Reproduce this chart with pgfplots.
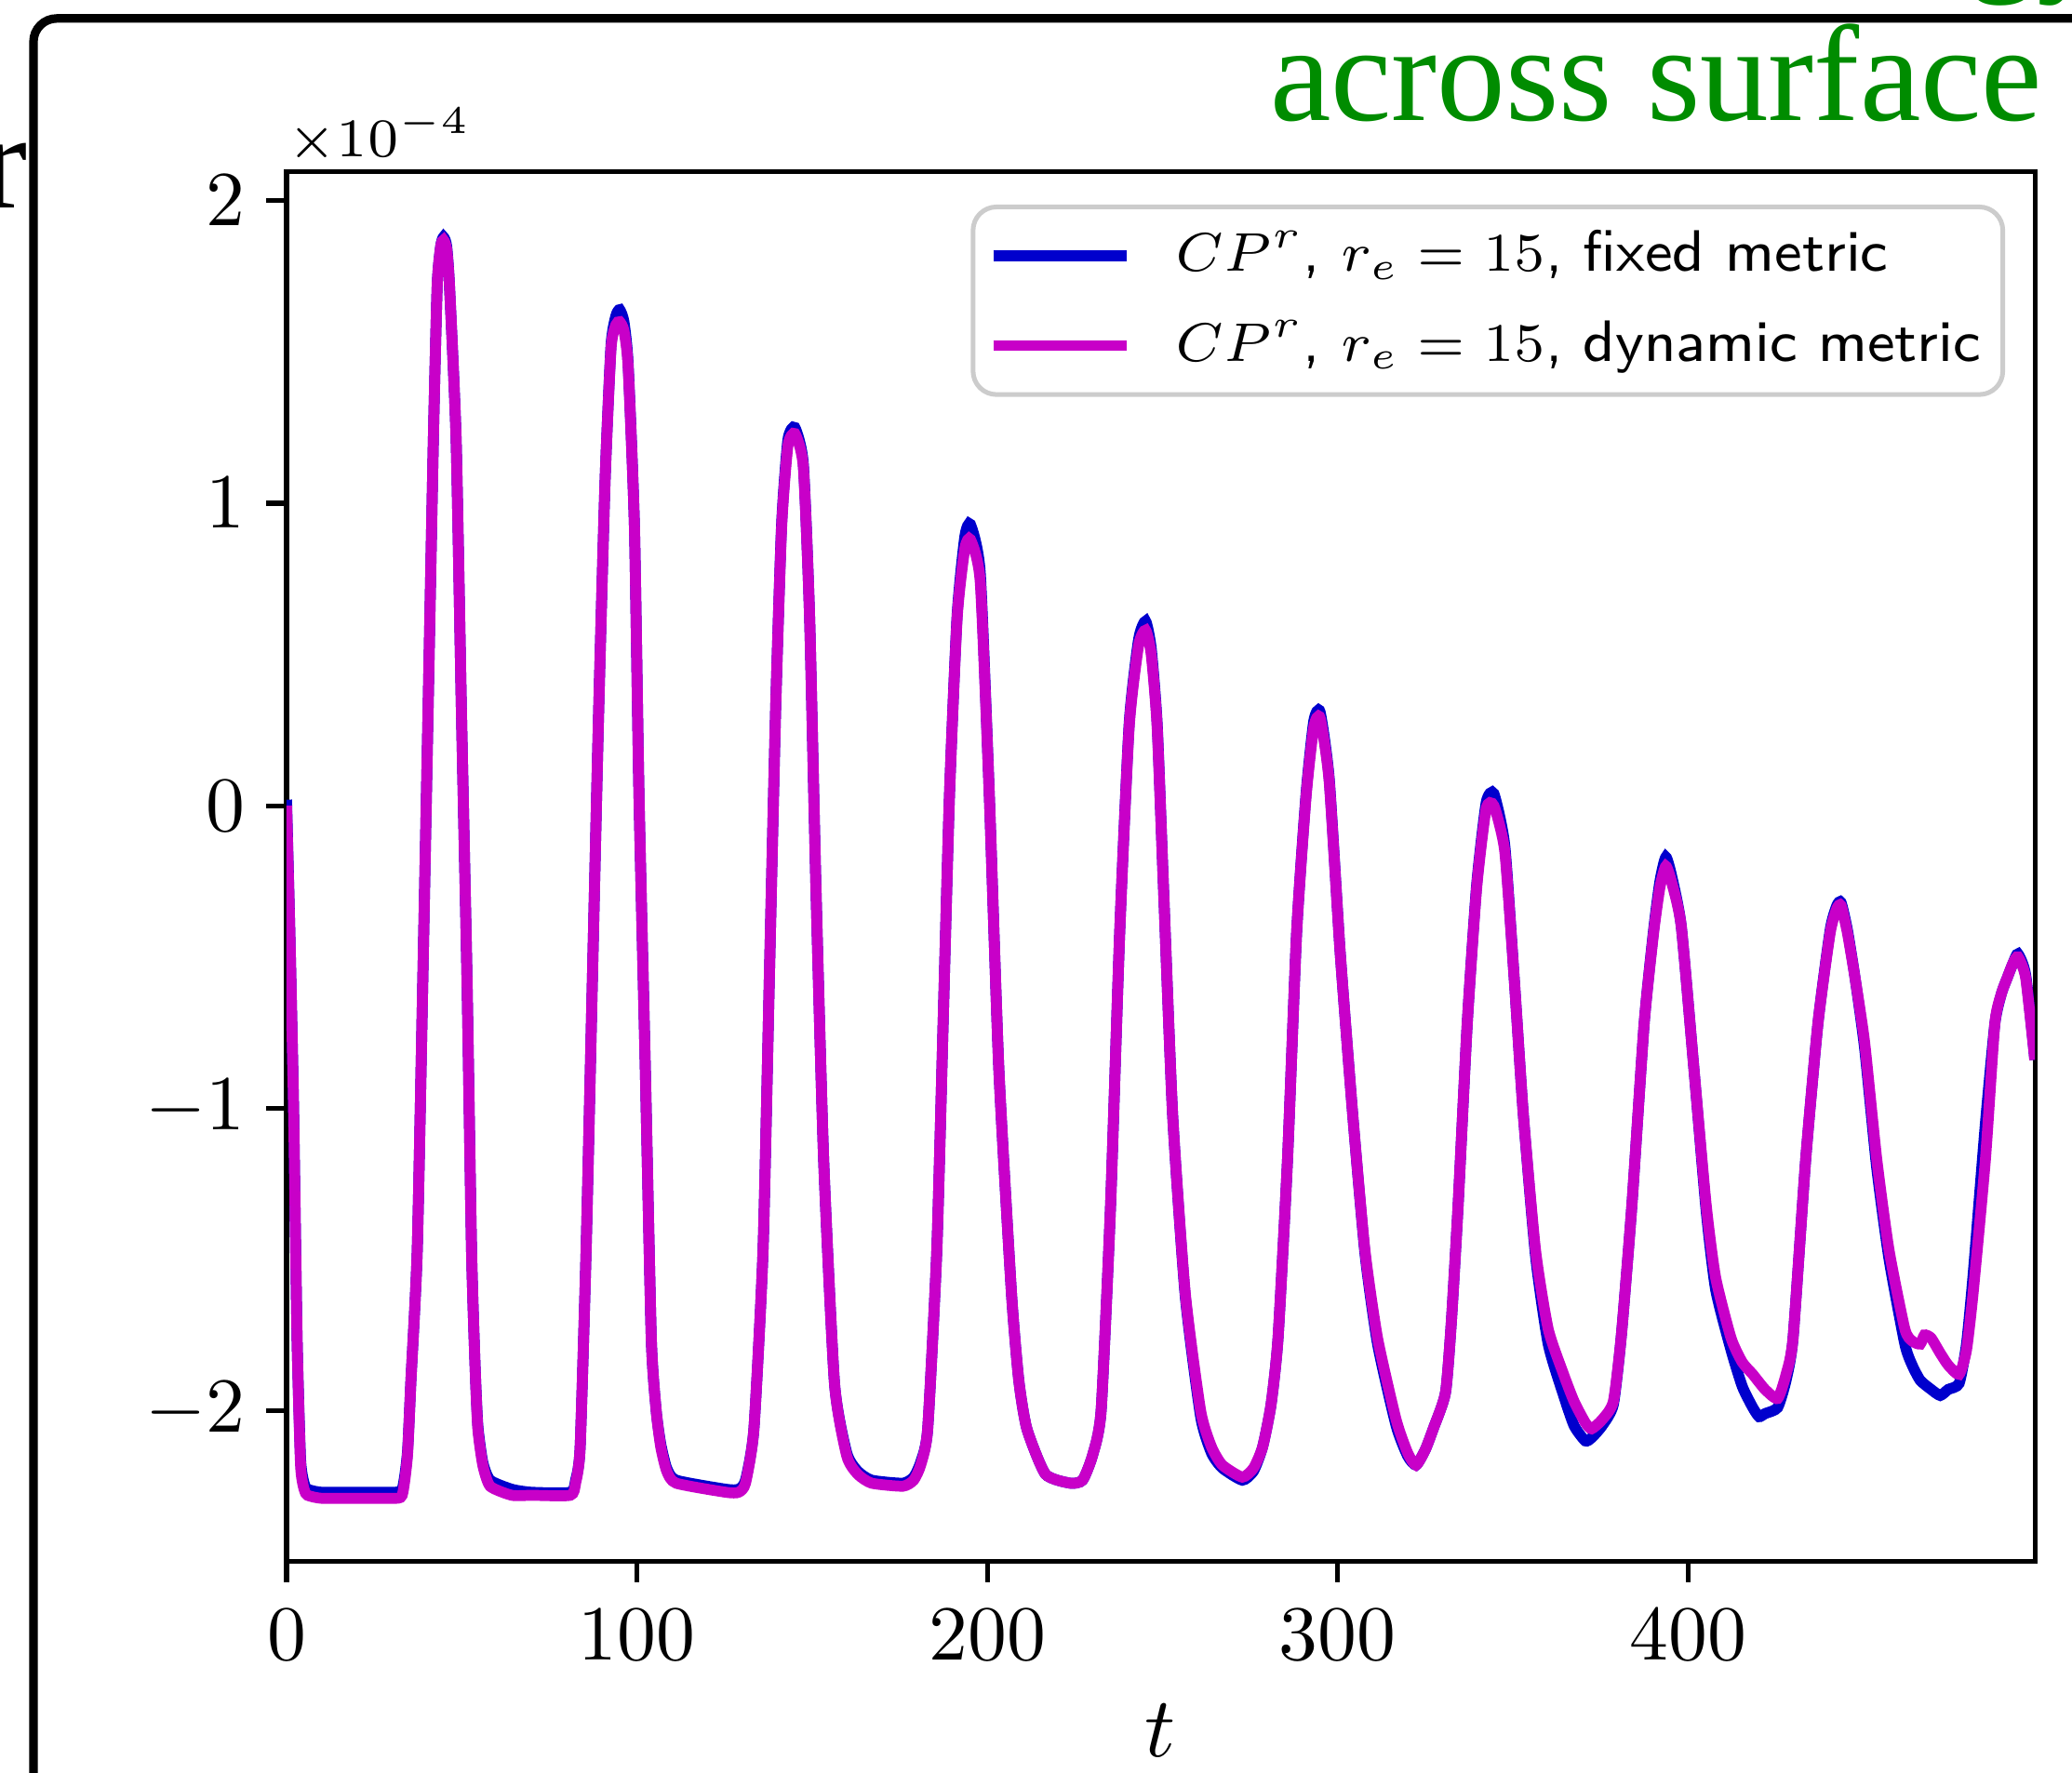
\documentclass[border=0pt]{standalone}
\usepackage{pgfplots}
\pgfplotsset{compat=1.18}
\usepackage{fontspec}
\newfontfamily\slidefont{Liberation Serif}
\definecolor{cpblue}{RGB}{0,0,205}
\definecolor{cpmag}{RGB}{200,0,200}
\definecolor{slidegreen}{RGB}{0,140,0}
\begin{document}
\begin{tikzpicture}
\useasboundingbox (0,0) rectangle (9.3534cm,8.0052cm);
\clip (0,0) rectangle (9.3534cm,8.0052cm);
\begin{scope}[x=0.0042cm,y=0.0042cm]
% slide frame and slide text
\draw[line width=1.1pt, rounded corners=3pt] (36,-30) -- (36,1888) -- (2270,1888);
\node[anchor=base east, inner sep=0, text=slidegreen, font=\slidefont\fontsize{17.6}{20}\selectfont] at (2199,1778) {across surface};
\node[anchor=base east, inner sep=0, text=slidegreen, font=\slidefont\fontsize{17.6}{20}\selectfont] at (2267,1933) {energy};
\node[anchor=base east, inner sep=0, font=\slidefont\fontsize{17.6}{20}\selectfont] at (31,1684) {r};
\node[anchor=base west, inner sep=0, font=\fontsize{7.4}{9}\selectfont] at (308,1739) {$\times10^{-4}$};
\end{scope}
\begin{axis}[
  at={(1.2936cm,0.9534cm)}, anchor=south west,
  scale only axis, width=7.892cm, height=6.275cm,
  xmin=0, xmax=499, ymin=-2.5, ymax=2.095,
  xtick={0,100,200,300,400}, ytick={-2,-1,0,1,2},
  tick align=outside, xtick pos=bottom, ytick pos=left,
  major tick length=0.092cm,
  axis line style={line width=0.6pt}, every tick/.style={black, line width=0.6pt},
  tick label style={font=\fontsize{9.7}{12}\selectfont},
  yticklabel style={xshift=0.03cm},
  xlabel={$t$},
  xlabel style={at={(axis description cs:0.5,0)}, anchor=base, yshift=-0.882cm, font=\fontsize{11}{13}\selectfont},
  legend cell align=left,
  legend style={at={(1,1)}, anchor=north east, xshift=-0.134cm, yshift=-0.147cm,
    draw=black!20, line width=0.6pt, rounded corners=3pt, fill=white,
    font=\fontsize{7.5}{9}\selectfont, inner xsep=1.9pt, inner ysep=1pt, row sep=0.9pt, column sep=4.7pt,
    nodes={text height=6pt, text depth=2pt, inner ysep=1.3pt, inner xsep=0.9pt}},
]
\addplot[cpblue, line width=1.4pt, smooth, tension=0.35] coordinates {
(0,0.02) (1,-0.45) (2,-1.0) (3,-1.76) (4,-2.16) (5,-2.24) (6,-2.26) (10,-2.27) (20,-2.27) (30,-2.27) (33,-2.26)
(34.5,-2.14) (35.5,-1.9) (37.3,-1.47) (38.9,-0.57) (40.4,0.32) (41.9,1.21) (43.0,1.72) (44.0,1.85) (44.8,1.88)
(45.7,1.85) (46.5,1.72) (48.4,1.21) (49.9,0.32) (51.5,-0.57) (52.8,-1.47) (53.8,-1.85) (54.6,-2.05) (56,-2.17)
(58.1,-2.23) (64.3,-2.26) (70,-2.27) (81,-2.27) (82.5,-2.23) (83.8,-2.12) (85.5,-1.47) (87.3,-0.57) (89.1,0.32)
(90.9,1.07) (92.6,1.52) (94,1.62) (95.1,1.64) (96.3,1.60) (97.5,1.46) (99.3,0.92) (100.6,0.03) (102.4,-0.87)
(104.1,-1.76) (105.5,-2.0) (106.8,-2.11) (108.5,-2.19) (111.2,-2.23) (125.4,-2.26) (129,-2.26) (131,-2.23)
(133.4,-2.06) (136,-1.47) (137.8,-0.57) (139.6,0.32) (141.3,0.93) (143.1,1.21) (145.1,1.25) (147.5,1.13)
(149.3,0.62) (151.1,-0.27) (153.3,-1.17) (156.4,-1.91) (159.9,-2.14) (163,-2.2) (167,-2.23) (175.9,-2.24)
(179,-2.22) (181,-2.17) (183,-2.06) (185.6,-1.47) (187.4,-0.72) (189.2,0.03) (191.4,0.63) (193.6,0.89)
(195.2,0.93) (198,0.77) (200.6,0.03) (203.3,-0.87) (206.9,-1.61) (209,-1.9) (211.3,-2.06) (216.6,-2.21)
(223.7,-2.24) (227.2,-2.23) (230,-2.15) (232.5,-2.0) (235.2,-1.32) (237.8,-0.42) (240.5,0.27) (243.2,0.55)
(245.2,0.61) (246.8,0.52) (248.5,0.27) (250.3,-0.27) (252.9,-1.02) (256.5,-1.62) (260.9,-2.02) (264,-2.14)
(267.1,-2.19) (272.8,-2.23) (276,-2.2) (278.6,-2.12) (281,-1.98) (283,-1.76) (285.7,-1.17) (288.3,-0.42)
(291,0.04) (293.2,0.28) (295,0.31) (297.6,0.09) (300.7,-0.48) (304.3,-1.02) (307.8,-1.48) (311.4,-1.78)
(316.7,-2.05) (320,-2.15) (322.4,-2.18) (325,-2.13) (327.3,-2.06) (330.8,-1.94) (332.5,-1.7) (334.4,-1.32)
(337,-0.72) (339.7,-0.26) (342.4,0.01) (344.6,0.04) (347.7,-0.13) (350.4,-0.57) (353,-1.02) (356.5,-1.49)
(360.1,-1.78) (364.5,-1.95) (367.5,-2.05) (370.7,-2.10) (372.5,-2.09) (375.5,-2.05) (378.7,-1.98) (381,-1.75)
(384,-1.32) (387.5,-0.72) (390.2,-0.41) (392,-0.25) (393.7,-0.17) (395.5,-0.24) (398.1,-0.40) (401.7,-0.87)
(405.2,-1.34) (407.9,-1.6) (412.3,-1.8) (415.5,-1.92) (418.5,-1.99) (420.3,-2.02) (422,-2.01) (425.6,-1.99)
(428,-1.9) (430,-1.76) (433.6,-1.17) (437.1,-0.72) (440.6,-0.41) (442.5,-0.33) (443.7,-0.32) (445.5,-0.41)
(447.7,-0.57) (450.4,-0.8) (453.9,-1.2) (457.4,-1.5) (461.9,-1.78) (464,-1.85) (466.3,-1.9) (469.4,-1.93)
(472,-1.95) (474.3,-1.93) (477.4,-1.91) (479.5,-1.78) (481.4,-1.55) (484.9,-1.05) (487.6,-0.72) (489.5,-0.62)
(491.1,-0.57) (492.8,-0.52) (494.2,-0.49) (496.4,-0.56) (499,-0.84)
};
\addlegendentry{$CP^r$\textsf{, }$r_e=15$\textsf{, fixed metric}}
\addplot[cpmag, line width=1.4pt, smooth, tension=0.35] coordinates {
(0,0.0) (1,-0.45) (2,-1.0) (3,-1.76) (4,-2.18) (5,-2.26) (6,-2.28) (10,-2.29) (20,-2.29) (30,-2.29) (33,-2.28)
(34.5,-2.15) (35.5,-1.9) (37.3,-1.47) (38.9,-0.57) (40.4,0.32) (41.9,1.21) (43.0,1.72) (44.0,1.85) (44.8,1.87)
(45.7,1.84) (46.5,1.72) (48.4,1.21) (49.9,0.32) (51.5,-0.57) (52.8,-1.47) (53.8,-1.85) (54.6,-2.06) (56,-2.18)
(58.1,-2.25) (64.3,-2.28) (70,-2.28) (81,-2.28) (82.5,-2.24) (83.8,-2.12) (85.5,-1.47) (87.3,-0.57) (89.1,0.32)
(90.9,1.07) (92.6,1.51) (94,1.59) (95.1,1.60) (96.3,1.57) (97.5,1.45) (99.3,0.92) (100.6,0.03) (102.4,-0.87)
(104.1,-1.76) (105.5,-2.0) (106.8,-2.12) (108.5,-2.2) (111.2,-2.24) (125.4,-2.27) (129,-2.27) (131,-2.24)
(133.4,-2.06) (136,-1.47) (137.8,-0.57) (139.6,0.32) (141.3,0.92) (143.1,1.19) (145.1,1.23) (147.5,1.12)
(149.3,0.62) (151.1,-0.27) (153.3,-1.17) (156.4,-1.91) (159.9,-2.15) (163,-2.21) (167,-2.24) (175.9,-2.25)
(179,-2.23) (181,-2.18) (183,-2.06) (185.6,-1.47) (187.4,-0.72) (189.2,0.03) (191.4,0.62) (193.6,0.85)
(195.2,0.88) (198,0.74) (200.6,0.03) (203.3,-0.87) (206.9,-1.61) (209,-1.9) (211.3,-2.06) (216.6,-2.21)
(223.7,-2.24) (227.2,-2.23) (230,-2.15) (232.5,-2.0) (235.2,-1.32) (237.8,-0.42) (240.5,0.26) (243.2,0.53)
(245.2,0.58) (246.8,0.5) (248.5,0.26) (250.3,-0.27) (252.9,-1.02) (256.5,-1.61) (260.9,-2.0) (264,-2.12)
(267.1,-2.18) (272.8,-2.22) (276,-2.19) (278.6,-2.12) (281,-1.98) (283,-1.76) (285.7,-1.17) (288.3,-0.42)
(291,0.03) (293.2,0.26) (295,0.29) (297.6,0.08) (300.7,-0.48) (304.3,-1.02) (307.8,-1.47) (311.4,-1.76)
(316.7,-2.03) (320,-2.14) (322.4,-2.18) (325,-2.13) (327.3,-2.06) (330.8,-1.94) (332.5,-1.7) (334.4,-1.32)
(337,-0.72) (339.7,-0.27) (342.4,-0.01) (344.6,0.0) (347.7,-0.15) (350.4,-0.57) (353,-1.02) (356.5,-1.47)
(360.1,-1.73) (364.5,-1.88) (367.5,-1.97) (370.7,-2.04) (372.5,-2.06) (375.5,-2.03) (378.7,-1.97) (381,-1.75)
(384,-1.32) (387.5,-0.72) (390.2,-0.42) (392,-0.27) (393.7,-0.2) (395.5,-0.26) (398.1,-0.4) (401.7,-0.87)
(405.2,-1.32) (407.9,-1.56) (412.3,-1.76) (415.5,-1.84) (418.5,-1.88) (422,-1.93) (425.6,-1.96) (428,-1.88)
(430,-1.76) (433.6,-1.17) (437.1,-0.72) (440.6,-0.42) (442.5,-0.34) (443.7,-0.33) (445.5,-0.42) (447.7,-0.57)
(450.4,-0.78) (453.9,-1.17) (457.4,-1.47) (461.9,-1.73) (464,-1.77) (466.3,-1.78) (467.5,-1.75) (469.4,-1.76)
(472,-1.81) (474.3,-1.85) (477.4,-1.88) (479.5,-1.8) (481.4,-1.61) (484.9,-1.17) (487.6,-0.72) (489.5,-0.62)
(491.1,-0.57) (492.8,-0.52) (494.2,-0.5) (496.4,-0.57) (499,-0.84)
};
\addlegendentry{$CP^r$\textsf{, }$r_e=15$\textsf{, dynamic metric}}
\end{axis}
\end{tikzpicture}
\end{document}
